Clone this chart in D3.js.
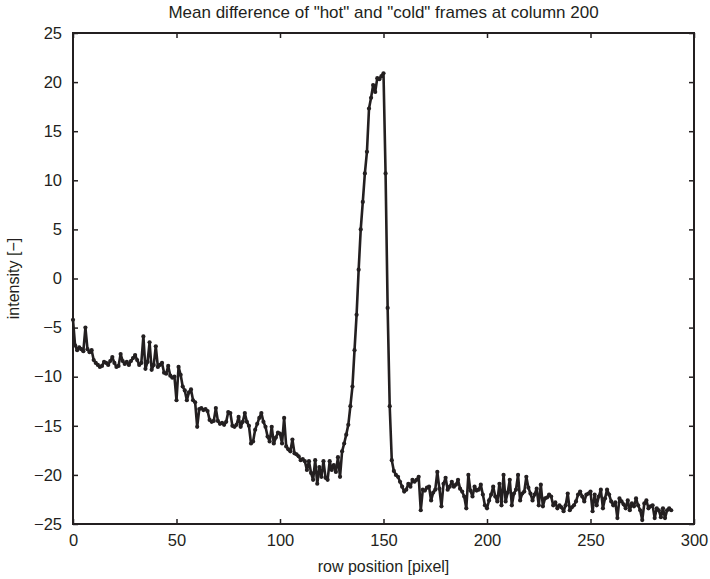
<!DOCTYPE html>
<html>
<head>
<meta charset="utf-8">
<script src="https://cdn.jsdelivr.net/npm/d3@7"></script>
<style>
  html, body { margin: 0; padding: 0; background: #fff; }
  svg { display: block; }
  text { font-family: "Liberation Sans", Arial, Helvetica, sans-serif; fill: #231f20; }
</style>
</head>
<body>
<svg id="chart" width="710" height="579"></svg>
<script>
// ---- data ----
const titleText = 'Mean difference of "hot" and "cold" frames at column 200';
const xLabel = "row position [pixel]";
const yLabel = "intensity [\u2212]";
const xTicks = [0, 50, 100, 150, 200, 250, 300];
const yTicks = [-25, -20, -15, -10, -5, 0, 5, 10, 15, 20, 25];
const xDomain = [0, 300];
const yDomain = [-25, 25];

// intensity at row positions 0..289
const intensity = [
  -4.2, -6.8, -7.3, -7.0, -7.2, -7.4, -5.0, -7.2, -7.5, -7.3,
  -8.3, -8.6, -8.8, -9.0, -8.9, -8.5, -8.6, -8.8, -8.4, -8.0,
  -8.6, -9.0, -8.9, -7.7, -8.4, -8.7, -8.5, -8.8, -8.4, -8.1,
  -7.8, -8.3, -8.8, -8.6, -5.9, -9.2, -8.5, -6.5, -9.3, -8.8,
  -6.9, -9.0, -8.8, -8.6, -9.6, -9.7, -8.9, -9.9, -10.1, -10.0,
  -12.4, -9.0, -9.8, -11.0, -11.4, -12.4, -11.6, -11.3, -12.4, -12.6,
  -15.1, -13.3, -13.2, -13.4, -13.3, -13.5, -14.4, -14.6, -14.5, -13.2,
  -14.5, -14.8, -14.7, -14.9, -14.6, -13.6, -13.7, -15.0, -15.1, -14.9,
  -14.1, -15.1, -14.6, -13.7, -14.6, -15.0, -16.8, -16.6, -15.4, -14.8,
  -14.2, -13.7, -14.6, -15.1, -16.1, -16.6, -15.1, -16.8, -16.2, -15.7,
  -15.8, -16.8, -14.2, -17.1, -17.4, -17.6, -16.4, -17.8, -17.9, -18.1,
  -18.5, -18.4, -18.6, -19.5, -18.6, -19.8, -20.5, -18.5, -20.9, -19.2,
  -20.2, -18.6, -20.3, -20.5, -18.6, -19.5, -19.0, -19.7, -18.2, -20.2,
  -17.6, -16.8, -15.9, -14.9, -13.0, -11.0, -7.3, -3.7, 0.9, 5.0,
  7.8, 10.7, 12.9, 17.3, 18.4, 19.7, 19.0, 20.4, 20.3, 20.6,
  20.9, 10.7, -3.0, -13.0, -18.5, -19.6, -20.0, -20.2, -20.7, -21.2,
  -21.7, -21.5, -20.9, -21.2, -20.5, -20.7, -20.5, -20.2, -23.6, -21.5,
  -21.6, -21.3, -21.2, -22.6, -21.8, -21.5, -19.7, -21.4, -23.2, -20.9,
  -20.3, -21.5, -21.2, -20.7, -21.2, -21.0, -20.5, -21.4, -21.7, -22.2,
  -23.4, -20.0, -21.6, -22.2, -21.2, -21.6, -21.5, -21.0, -22.0, -23.1,
  -23.4, -22.6, -22.0, -21.2, -22.2, -22.7, -20.9, -23.1, -20.0, -22.7,
  -21.8, -20.5, -23.1, -21.9, -21.5, -20.0, -22.6, -21.9, -21.7, -20.2,
  -21.3, -21.9, -22.6, -22.0, -21.4, -23.1, -21.0, -23.2, -22.4, -22.3,
  -22.0, -22.2, -23.1, -22.8, -23.4, -23.1, -23.3, -23.7, -23.1, -21.9,
  -23.6, -23.3, -23.1, -22.7, -22.0, -21.7, -22.2, -22.7, -22.0, -21.9,
  -21.7, -23.7, -22.0, -23.1, -22.2, -21.5, -23.4, -22.4, -21.5, -22.0,
  -22.7, -23.1, -22.8, -24.4, -22.4, -22.7, -23.0, -23.4, -22.6, -23.6,
  -22.9, -23.2, -22.4, -23.1, -23.6, -24.6, -22.9, -22.6, -23.4, -23.2,
  -23.1, -24.4, -23.4, -23.6, -24.3, -23.4, -24.4, -23.6, -23.4, -23.6
];
const rowPosition = intensity.map((_, i) => i);

// ---- layout ----
const W = 710, H = 579;
const margin = { left: 73, right: 16, top: 33, bottom: 55 };
const ink = "#231f20";

const svg = d3.select("#chart");
const x = d3.scaleLinear().domain(xDomain).range([margin.left, W - margin.right]);
const y = d3.scaleLinear().domain(yDomain).range([H - margin.bottom, margin.top]);

const fmt = d => (d < 0 ? "\u2212" + Math.abs(d) : String(d));

// Axes (ticks inward, mirrored on top/right)
const tickLen = 5;
svg.append("g").attr("transform", `translate(0,${y.range()[0]})`)
  .call(d3.axisBottom(x).tickValues(xTicks).tickSizeInner(-tickLen).tickSizeOuter(0).tickPadding(10).tickFormat(fmt))
  .call(g => g.select(".domain").remove());
svg.append("g").attr("transform", `translate(0,${y.range()[1]})`)
  .call(d3.axisTop(x).tickValues(xTicks).tickSizeInner(-tickLen).tickSizeOuter(0).tickFormat(""))
  .call(g => g.select(".domain").remove());
svg.append("g").attr("transform", `translate(${x.range()[0]},0)`)
  .call(d3.axisLeft(y).tickValues(yTicks).tickSizeInner(-tickLen).tickSizeOuter(0).tickPadding(11).tickFormat(fmt))
  .call(g => g.select(".domain").remove());
svg.append("g").attr("transform", `translate(${x.range()[1]},0)`)
  .call(d3.axisRight(y).tickValues(yTicks).tickSizeInner(-tickLen).tickSizeOuter(0).tickFormat(""))
  .call(g => g.select(".domain").remove());

svg.selectAll(".tick line").attr("stroke", ink).attr("stroke-width", 1.5);
svg.selectAll(".tick text").attr("fill", ink).style("font-size", "16.5px")
  .style("font-family", '"Liberation Sans", Arial, sans-serif');

// frame
svg.append("rect")
  .attr("x", x.range()[0]).attr("y", y.range()[1])
  .attr("width", x.range()[1] - x.range()[0])
  .attr("height", y.range()[0] - y.range()[1])
  .attr("fill", "none").attr("stroke", ink).attr("stroke-width", 2);

// data line
const pts = rowPosition.map((r, i) => [r, intensity[i]]);
svg.append("path").datum(pts)
  .attr("fill", "none").attr("stroke", ink).attr("stroke-width", 2.6)
  .attr("stroke-linejoin", "round")
  .attr("d", d3.line().x(d => x(d[0])).y(d => y(d[1])));
svg.append("g").selectAll("circle").data(pts).join("circle")
  .attr("cx", d => x(d[0])).attr("cy", d => y(d[1])).attr("r", 2.1).attr("fill", ink);

// labels
const cx = (x.range()[0] + x.range()[1]) / 2;
svg.append("text").attr("x", cx).attr("y", 18).attr("text-anchor", "middle")
  .style("font-size", "17px").text(titleText);
svg.append("text").attr("x", cx).attr("y", 572).attr("text-anchor", "middle")
  .style("font-size", "16px").text(xLabel);
svg.append("text").attr("transform", `translate(19,${(y.range()[0] + y.range()[1]) / 2}) rotate(-90)`)
  .attr("text-anchor", "middle").style("font-size", "16px").text(yLabel);
</script>
</body>
</html>
